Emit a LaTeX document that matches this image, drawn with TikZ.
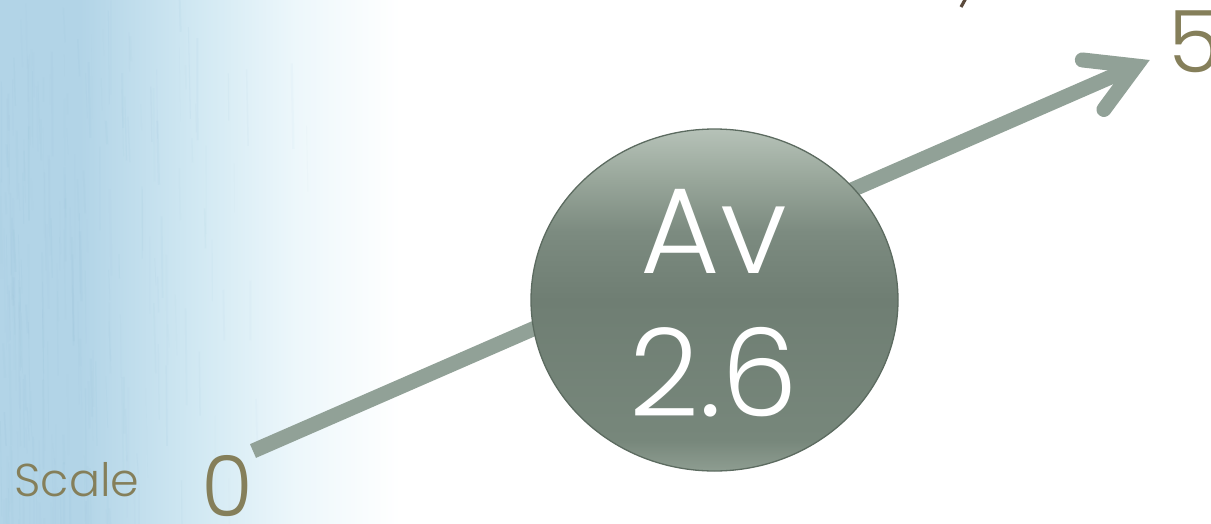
\documentclass[tikz,border=0pt]{standalone}
\usepackage{fontspec}
\setmainfont{Poppins Light}
\usetikzlibrary{calc,shapes.geometric}

\definecolor{olive}{HTML}{857F5A}
\definecolor{shaftgrey}{HTML}{91A197}
\definecolor{ballrim}{HTML}{5C6B60}
\definecolor{inkbrown}{HTML}{5A4A3C}
\definecolor{washA}{HTML}{B2D4E7}
\definecolor{washB}{HTML}{D2E9F3}
\definecolor{washC}{HTML}{EDF7FB}
\definecolor{streak}{HTML}{9CC4DB}
\definecolor{ballA}{HTML}{8E9D91}
\definecolor{ballB}{HTML}{77877B}
\definecolor{ballC}{HTML}{6F7E73}
\definecolor{ballD}{HTML}{7C8B80}
\definecolor{ballE}{HTML}{98A69A}
\definecolor{ballF}{HTML}{B6C2B8}

% soft blue wash on the left, fading to white
\pgfdeclarehorizontalshading{wash}{100bp}{color(0bp)=(washA); color(25bp)=(washA);
  color(35bp)=(washA); color(50bp)=(washB); color(62bp)=(washC); color(75bp)=(white); color(100bp)=(white)}
% vertical sheen of the ball
\pgfdeclareverticalshading{ballshade}{100bp}{color(0bp)=(ballA); color(25bp)=(ballA);
  color(29.5bp)=(ballB); color(50bp)=(ballC); color(60bp)=(ballD);
  color(67.5bp)=(ballE); color(75bp)=(ballF); color(100bp)=(ballF)}

\tikzset{
  shaft/.style={draw=shaftgrey, line width=15pt, line cap=butt},
  barb/.style={draw=shaftgrey, line width=15pt, line cap=round, line join=miter},
  ball/.style={ellipse, draw=ballrim, line width=1.3pt, shading=ballshade,
    minimum width=367pt, minimum height=342pt, inner sep=0pt},
  balltext/.style={text=white, font=\fontsize{122}{122}\selectfont, anchor=base, inner sep=0pt},
  scaletext/.style={text=olive, anchor=base, inner sep=0pt},
}

\begin{document}
\begin{tikzpicture}[x=1pt, y=-1pt]
  \useasboundingbox (0,0) rectangle (1211,523);
  \fill[white] (0,0) rectangle (1211,523);

  % watercolour background
  \shade[shading=wash] (0,0) rectangle (400,523);
  \pgfmathsetseed{7}
  \foreach \k in {1,...,220} {
    \pgfmathsetmacro{\sx}{rnd*rnd*320}
    \pgfmathsetmacro{\sy}{rnd*523}
    \pgfmathsetmacro{\sl}{20+rnd*90}
    \pgfmathsetmacro{\sw}{0.5+rnd*1.8}
    \pgfmathsetmacro{\so}{0.04+0.16*rnd*(1-\sx/320)}
    \draw[streak, line width=\sw pt, opacity=\so] (\sx,\sy) -- (\sx+rnd*2,\sy+\sl);
  }

  % fragment of a glyph cut by the top edge
  \draw[inkbrown, line width=3.2pt] (961,7) -- (966,-2);

  % the scale arrow
  \coordinate (tail) at (253,451);
  \coordinate (tip) at (1136,66);
  \draw[shaft] (tail) -- (tip);
  \draw[barb] ($(tip)!54pt!30:(tail)$) -- (tip) -- ($(tip)!54pt!-30:(tail)$);

  % average marker
  \node[ball] (avg) at (714.5,300) {};
  \node[balltext] (avlabel) at (714,273) {Av};
  \node[balltext] (avvalue) at (714,416) {2.6};

  % scale labels
  \node[scaletext, font=\fontsize{46}{46}\selectfont] (scale) at (77,496) {Scale};
  \node[scaletext, font=\fontsize{84}{84}\selectfont] (zero) at (227,516) {0};
  \node[scaletext, font=\fontsize{86}{86}\selectfont, anchor=base west] (five) at (1168,72) {5};
\end{tikzpicture}
\end{document}
